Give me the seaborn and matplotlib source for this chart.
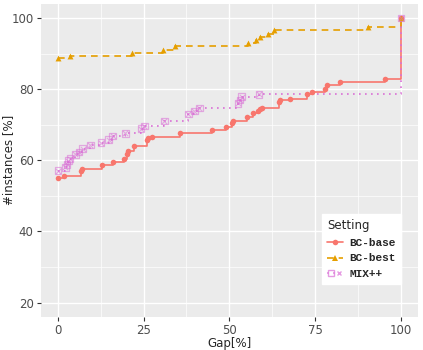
import numpy as np
import pandas as pd
import seaborn as sns
import matplotlib.pyplot as plt
from matplotlib.lines import Line2D
from matplotlib.legend_handler import HandlerTuple
from matplotlib.ticker import MultipleLocator

# values (gap %, cumulative % of instances)
bc_base_x = [0, 1.7, 6.8, 7.1, 12.9, 16.0, 19.2, 20.3, 20.4, 22.3, 26.0, 26.4, 27.4, 35.7,
             44.9, 49.0, 50.9, 51.0, 55.3, 57.0, 58.5, 58.9, 59.5, 64.6, 64.8, 67.7, 72.7,
             74.0, 77.9, 78.6, 82.4, 95.3, 100]
bc_base_y = [55.0, 55.7, 56.9, 57.7, 58.7, 59.6, 60.5, 61.9, 62.6, 64.1, 65.7, 66.2, 66.7, 67.8,
             68.6, 69.4, 70.6, 71.2, 72.2, 73.2, 73.9, 74.4, 74.8, 76.4, 76.9, 77.4, 78.6,
             79.3, 80.2, 81.1, 82.0, 83.0, 100]

bc_best_x = [0, 3.6, 21.5, 30.6, 34.3, 55.5, 57.8, 59.0, 61.4, 63.1, 90.3, 100]
bc_best_y = [88.7, 89.3, 90.3, 91.0, 92.1, 93.1, 94.0, 94.8, 95.6, 96.6, 97.6, 100]

mix_x = [0, 2.2, 2.7, 3.1, 3.6, 5.1, 6.1, 7.2, 9.5, 12.6, 14.8, 16.0, 19.7, 24.2, 25.2,
         31.1, 38.1, 39.8, 41.3, 52.5, 53.1, 53.6, 58.7, 100]
mix_y = [57.1, 58.0, 58.9, 59.9, 60.5, 61.7, 62.4, 63.3, 64.3, 65.0, 65.8, 66.9, 67.6, 68.9, 69.7,
         71.1, 73.0, 73.9, 74.8, 76.0, 77.0, 77.9, 78.6, 100]

settings = ['BC-base', 'BC-best', 'MIX++']
x_ticks = [0, 25, 50, 75, 100]
y_ticks = [20, 40, 60, 80, 100]

df = pd.concat([
    pd.DataFrame({'Gap': bc_base_x, 'Inst': bc_base_y, 'Setting': 'BC-base'}),
    pd.DataFrame({'Gap': bc_best_x, 'Inst': bc_best_y, 'Setting': 'BC-best'}),
    pd.DataFrame({'Gap': mix_x, 'Inst': mix_y, 'Setting': 'MIX++'}),
], ignore_index=True)

palette = {'BC-base': '#F8766D', 'BC-best': '#E69F00', 'MIX++': '#DA70D6'}
dashes = {'BC-base': '', 'BC-best': (4, 3), 'MIX++': (1, 2.6)}

sns.set_theme(style='darkgrid', rc={
    'axes.facecolor': '#EBEBEB', 'grid.color': 'white',
    'xtick.color': '#333333', 'ytick.color': '#333333',
})
plt.rcParams['font.family'] = ['DejaVu Sans']

fig = plt.figure(figsize=(4.23, 3.5), dpi=100)
ax = fig.add_axes([0.0962, 0.0951, 0.8918, 0.8935])

sns.lineplot(data=df, x='Gap', y='Inst', hue='Setting', style='Setting',
             palette=palette, dashes=dashes, estimator=None, sort=False,
             drawstyle='steps-post', linewidth=1.2, legend=False, ax=ax)

sub = df[df.Setting == 'BC-base']
sns.scatterplot(x=sub.Gap, y=sub.Inst, color=palette['BC-base'], marker='o', s=16,
                linewidth=0, ax=ax, zorder=3)
sub = df[df.Setting == 'BC-best']
sns.scatterplot(x=sub.Gap, y=sub.Inst, color=palette['BC-best'], marker='^', s=18,
                linewidth=0, ax=ax, zorder=3)
sub = df[df.Setting == 'MIX++']
ax.scatter(sub.Gap, sub.Inst, marker='s', s=22, facecolors='none',
           edgecolors=palette['MIX++'], linewidths=0.9, alpha=0.55, zorder=3)
ax.scatter(sub.Gap, sub.Inst, marker='x', s=14, color=palette['MIX++'],
           linewidths=0.8, alpha=0.55, zorder=3)

ax.set_xlim(-5, 105)
ax.set_ylim(16, 104)
ax.set_xticks(x_ticks)
ax.set_yticks(y_ticks)
ax.xaxis.set_minor_locator(MultipleLocator(12.5))
ax.yaxis.set_minor_locator(MultipleLocator(10))
ax.grid(which='major', color='white', linewidth=1.0)
ax.grid(which='minor', color='white', linewidth=0.5)
ax.tick_params(which='major', length=3, width=0.8, color='#333333', labelsize=8.5,
               labelcolor='#4D4D4D', pad=2, bottom=True, left=True)
ax.tick_params(which='minor', length=0)
for s in ax.spines.values():
    s.set_visible(False)
ax.set_xlabel('Gap[%]', fontsize=8.5, labelpad=0)
ax.set_ylabel('#instances [%]', fontsize=8.5)
ax.yaxis.set_label_coords(-0.067, 0.5)

h_base = Line2D([], [], color=palette['BC-base'], lw=1.2, marker='o', markersize=4,
                markeredgewidth=0)
h_best = Line2D([], [], color=palette['BC-best'], lw=1.2, ls=(0, (4, 3)), marker='^',
                markersize=4, markeredgewidth=0)
h_mix1 = Line2D([], [], color=palette['MIX++'], lw=1.2, ls=(0, (1, 2.6)), marker='s',
                markersize=4.5, markerfacecolor='none', alpha=0.7)
h_mix2 = Line2D([], [], color=palette['MIX++'], lw=0, marker='x', markersize=3.5, alpha=0.7)
leg = ax.legend([h_base, h_best, (h_mix1, h_mix2)], settings, title='Setting',
                handler_map={tuple: HandlerTuple(ndivide=None, pad=0)},
                loc='lower right', bbox_to_anchor=(401 / 423, 1 - 284 / 350),
                bbox_transform=fig.transFigure, frameon=True, fancybox=False,
                facecolor='white', edgecolor='white', framealpha=1, handlelength=1.4,
                handletextpad=0.6, labelspacing=0.5, borderpad=0.45, borderaxespad=0,
                prop={'family': 'Liberation Mono', 'weight': 'bold', 'size': 8},
                title_fontproperties={'family': 'DejaVu Sans', 'size': 8.5})
leg._legend_box.align = 'left'

fig.savefig('out.png', dpi=100)
